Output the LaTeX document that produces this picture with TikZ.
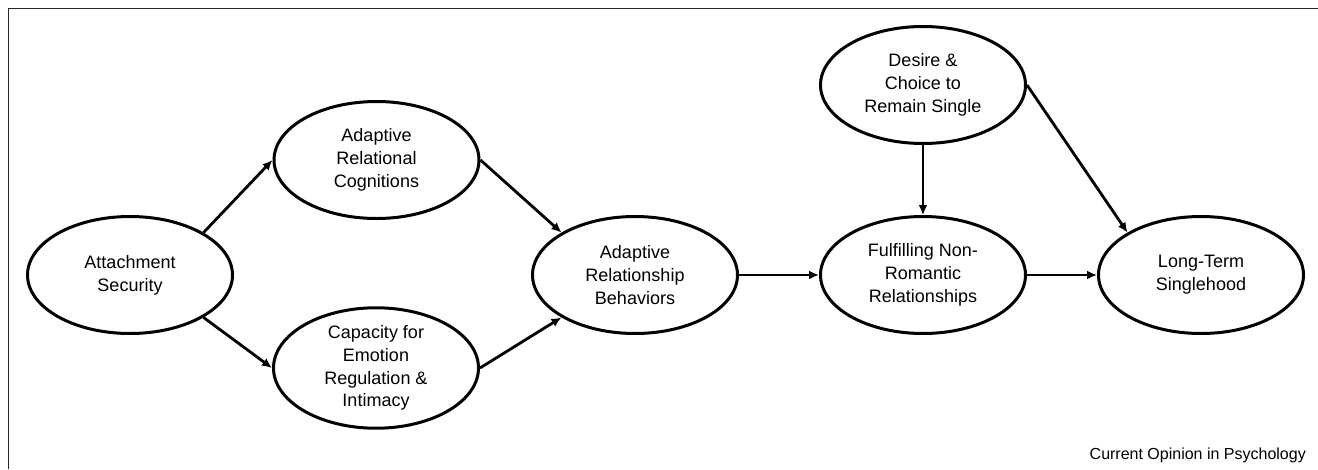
\documentclass[tikz,border=0pt]{standalone}
\usepackage{fontspec}
\setmainfont{Liberation Sans}
\usetikzlibrary{shapes.geometric,arrows.meta}
\tikzset{
  oval/.style={ellipse, draw=black, line width=3pt, minimum width=205pt, minimum height=117pt,
    inner sep=0pt, align=center, font=\fontsize{18}{22.8}\selectfont},
  link/.style={line width=2.8pt, -{Latex[length=10pt,width=9pt]}},
}
\begin{document}
\begin{tikzpicture}[x=1pt,y=-1pt]
\useasboundingbox (0,0) rectangle (1318,469);
\coordinate (fa) at (8.5,469);
\coordinate (fb) at (8.5,8.5);
\coordinate (fc) at (1318,8.5);
\draw[line width=1.2pt, black!85] (fa) -- (fb) -- (fc);

\node[oval] (as)  at (130,275)   {Attachment\\Security};
\node[oval] (arc) at (376.5,160) {Adaptive\\Relational\\Cognitions};
\node[oval] (cap) at (376,368)   {Capacity for\\Emotion\\Regulation \&\\Intimacy};
\node[oval] (arb) at (635,275)   {Adaptive\\Relationship\\Behaviors};
\node[oval] (des) at (923,85)    {Desire \&\\Choice to\\Remain Single};
\node[oval] (ful) at (923,275)   {Fulfilling Non-\\Romantic\\Relationships};
\node[oval] (lts) at (1201,275)  {Long-Term\\Singlehood};

\node[anchor=base east, inner sep=0pt, font=\fontsize{16}{19}\selectfont] (cap0) at (1306,459) {Current Opinion in Psychology};

\draw[link] (as.30) -- (arc.west);
\draw[link] (as.-30) -- (cap.west);
\draw[link] (arc.east) -- (arb.150);
\draw[link] (cap.east) -- (arb.210);
\draw[link] (arb.east) -- (ful.west);
\draw[link] (des.south) -- (ful.north);
\draw[link] (des.east) -- (lts.150);
\draw[link] (ful.east) -- (lts.west);
\end{tikzpicture}
\end{document}
